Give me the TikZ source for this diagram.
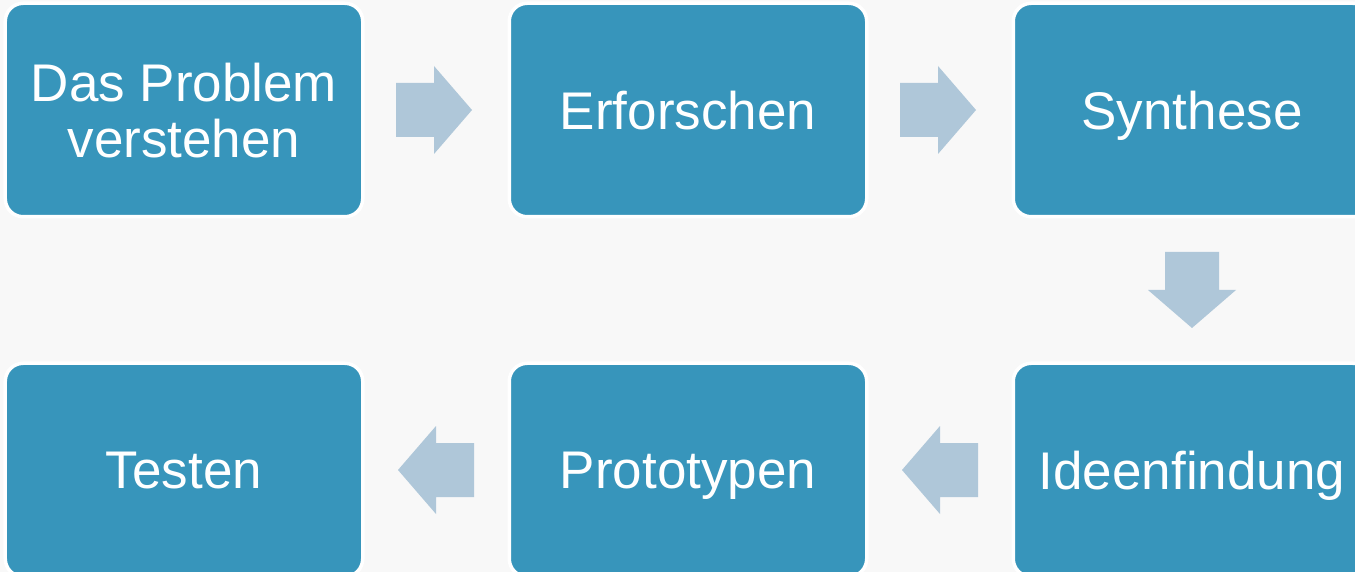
\documentclass[tikz,border=0pt]{standalone}
\usepackage{fontspec}
\setmainfont{Liberation Sans}
\usepackage{tikz}
\usepackage{xcolor}
\usetikzlibrary{positioning, calc}

\definecolor{boxblue}{RGB}{55,149,187}
\definecolor{arrowblue}{RGB}{175,199,217}
\definecolor{bggray}{RGB}{248,248,248}

\tikzset{
  blockarrow/.pic={\fill[arrowblue] (-38,-27) -- (0,-27) -- (0,-44) -- (38,0) -- (0,44) -- (0,27) -- (-38,27) -- cycle;}
}

\begin{document}
\begin{tikzpicture}[x=1pt, y=1pt, node distance=504pt, on grid, phase/.style={rectangle, rounded corners=18pt, draw=white, line width=3.5pt, fill=boxblue, text=white, minimum width=357.5pt, minimum height=213.5pt, text depth=0pt, align=center, font=\fontsize{53}{56}\selectfont}]

            \fill[bggray] (-184,110) rectangle (1171,-462);
            \useasboundingbox (-184,110) rectangle (1171,-462);

            \node[phase] (S1) {Das Problem\\verstehen};
            \node[phase, right=of S1] (S2) {Erforschen};
            \node[phase, right=of S2] (S3) {Synthese};
            \node[phase, below=360pt of S3] (S4) {Ideenfindung};
            \node[phase, left=of S4] (S5) {Prototypen};
            \node[phase, left=of S5] (S6) {Testen};

            \pic[xshift=-2pt] at ($(S1.east)!0.5!(S2.west)$) {blockarrow};
            \pic[xshift=-2pt] at ($(S2.east)!0.5!(S3.west)$) {blockarrow};
            \pic[rotate=-90] at ($(S3.south)!0.5!(S4.north)$) {blockarrow};
            \pic[rotate=180] at ($(S4.west)!0.5!(S5.east)$) {blockarrow};
            \pic[rotate=180] at ($(S5.west)!0.5!(S6.east)$) {blockarrow};

        \end{tikzpicture}
\end{document}
